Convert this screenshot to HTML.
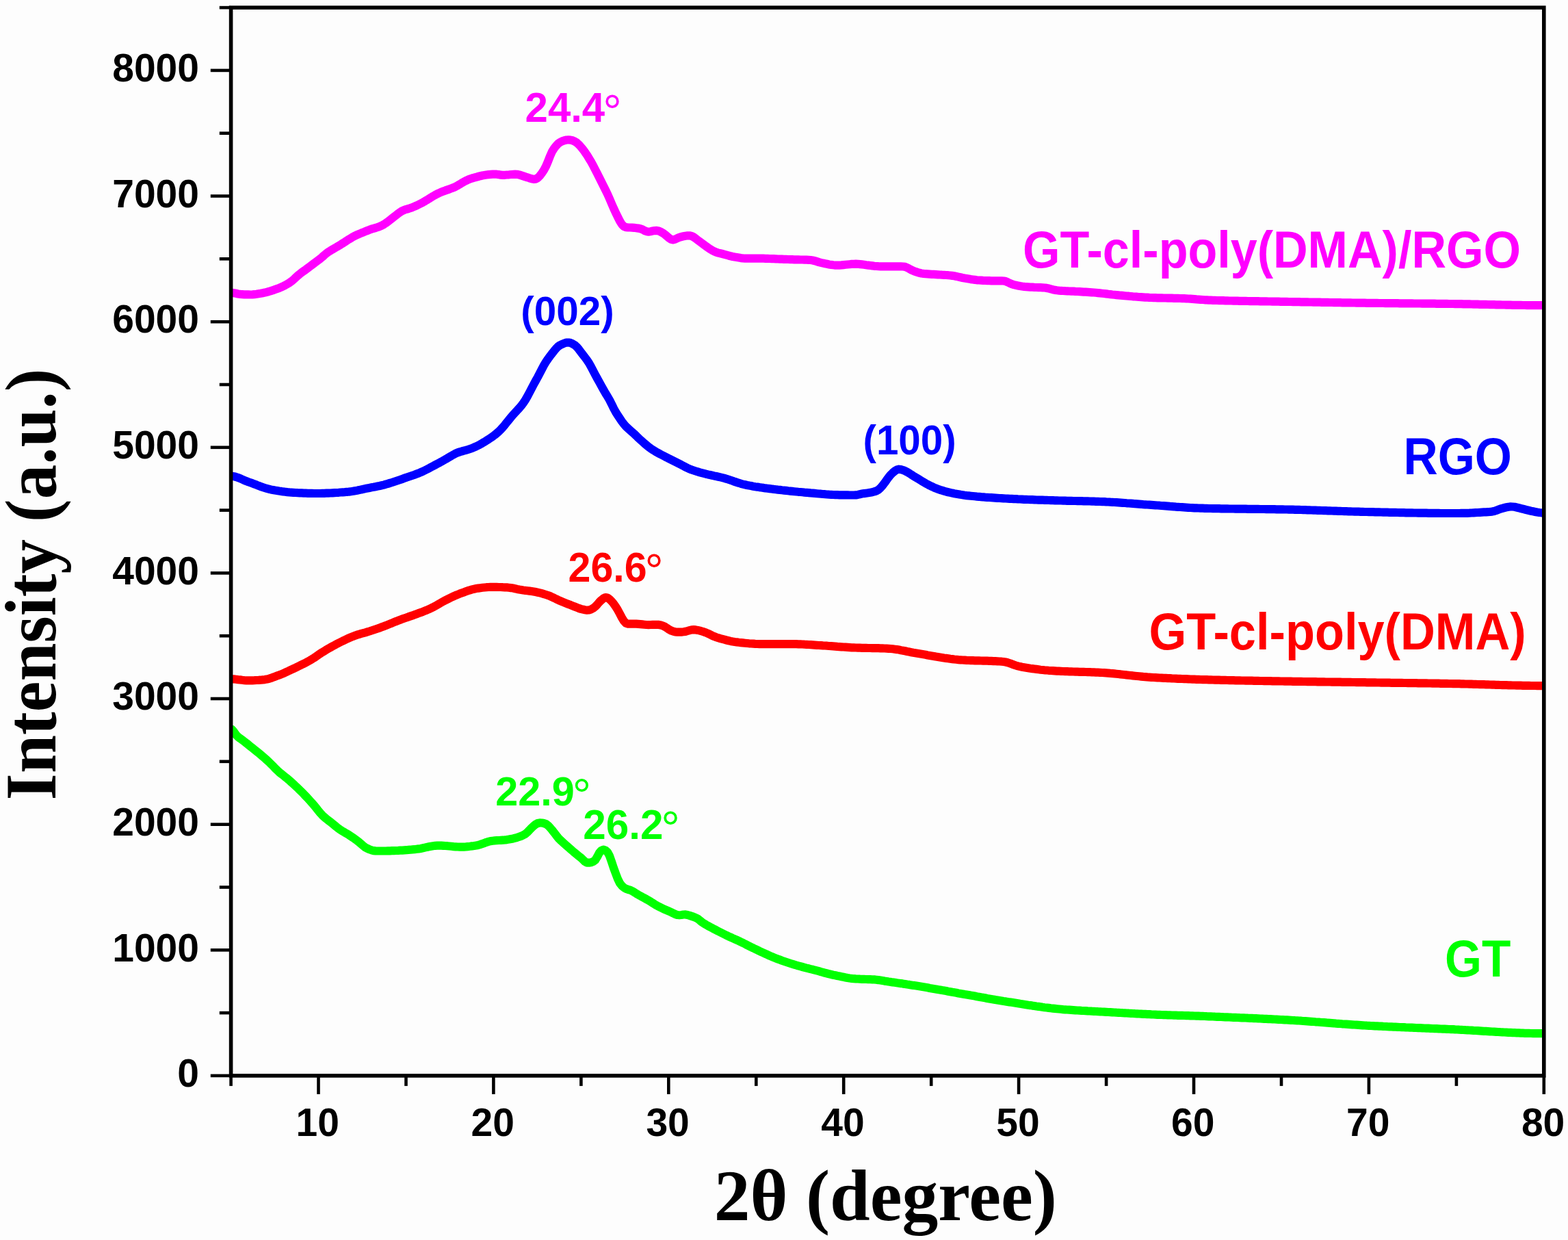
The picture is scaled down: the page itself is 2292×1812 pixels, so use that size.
<!DOCTYPE html>
<html><head><meta charset="utf-8"><title>XRD</title>
<style>html,body{margin:0;padding:0;background:#fdfdfd;overflow:hidden;width:2292px;height:1812px;} svg{display:block;}</style>
</head><body>
<svg width="2292" height="1812" viewBox="0 0 2292 1812">
<rect x="0" y="0" width="2292" height="1812" fill="#fdfdfd"/>
<defs><clipPath id="pc"><rect x="337.6" y="0" width="1919.2" height="1812"/></clipPath></defs>
<g fill="none" stroke-linejoin="round" stroke-linecap="butt" stroke-width="12.2" clip-path="url(#pc)">
<path stroke="#ff00ff" d="M330.0,427.8 L333.0,427.8 L336.0,427.8 L339.0,427.9 L342.0,428.2 L345.0,428.8 L348.0,429.5 L351.0,429.9 L354.0,430.1 L357.0,430.3 L360.0,430.4 L363.0,430.4 L366.0,430.5 L369.0,430.4 L372.0,430.2 L375.0,429.8 L378.0,429.3 L381.0,428.8 L384.0,428.2 L387.0,427.6 L390.0,426.8 L393.0,426.0 L396.0,425.1 L399.0,424.2 L402.0,423.1 L405.0,422.0 L408.0,420.9 L411.0,419.6 L414.0,418.2 L417.0,416.7 L420.0,415.0 L423.0,413.2 L426.0,411.1 L429.0,408.6 L432.0,405.8 L435.0,403.0 L438.0,400.5 L441.0,398.2 L444.0,396.0 L447.0,393.9 L450.0,391.6 L453.0,389.4 L456.0,387.1 L459.0,384.8 L462.0,382.6 L465.0,380.4 L468.0,378.1 L471.0,375.6 L474.0,372.9 L477.0,370.4 L480.0,368.2 L483.0,366.3 L486.0,364.5 L489.0,362.7 L492.0,361.0 L495.0,359.2 L498.0,357.4 L501.0,355.5 L504.0,353.6 L507.0,351.6 L510.0,349.7 L513.0,347.9 L516.0,346.1 L519.0,344.5 L522.0,343.1 L525.0,341.8 L528.0,340.6 L531.0,339.5 L534.0,338.2 L537.0,337.0 L540.0,335.8 L543.0,334.7 L546.0,333.8 L549.0,333.0 L552.0,332.0 L555.0,330.9 L558.0,329.6 L561.0,328.0 L564.0,326.0 L567.0,323.8 L570.0,321.5 L573.0,319.2 L576.0,316.8 L579.0,314.5 L582.0,312.1 L585.0,309.9 L588.0,308.1 L591.0,306.8 L594.0,305.8 L597.0,305.0 L600.0,304.0 L603.0,302.9 L606.0,301.7 L609.0,300.4 L612.0,298.9 L615.0,297.4 L618.0,295.8 L621.0,294.1 L624.0,292.3 L627.0,290.4 L630.0,288.6 L633.0,286.7 L636.0,285.0 L639.0,283.4 L642.0,282.0 L645.0,280.7 L648.0,279.5 L651.0,278.4 L654.0,277.4 L657.0,276.4 L660.0,275.2 L663.0,274.1 L666.0,272.7 L669.0,271.1 L672.0,269.3 L675.0,267.4 L678.0,265.7 L681.0,264.1 L684.0,262.7 L687.0,261.5 L690.0,260.5 L693.0,259.7 L696.0,258.8 L699.0,258.0 L702.0,257.2 L705.0,256.5 L708.0,256.0 L711.0,255.5 L714.0,255.1 L717.0,254.9 L720.0,254.7 L723.0,254.6 L726.0,254.7 L729.0,255.1 L732.0,255.7 L735.0,255.9 L738.0,255.8 L741.0,255.5 L744.0,255.3 L747.0,255.0 L750.0,254.8 L753.0,254.7 L756.0,254.8 L759.0,255.4 L762.0,256.4 L765.0,257.4 L768.0,258.4 L771.0,259.3 L774.0,260.3 L777.0,261.2 L780.0,261.8 L783.0,261.6 L786.0,260.0 L789.0,257.0 L792.0,253.1 L795.0,248.6 L798.0,243.0 L801.0,236.0 L804.0,228.2 L807.0,221.6 L810.0,216.8 L813.0,212.9 L816.0,209.8 L819.0,207.7 L822.0,206.3 L825.0,205.2 L828.0,204.5 L831.0,204.3 L834.0,204.6 L837.0,205.3 L840.0,206.6 L843.0,208.5 L846.0,211.2 L849.0,214.5 L852.0,218.2 L855.0,222.2 L858.0,226.6 L861.0,231.4 L864.0,236.4 L867.0,241.9 L870.0,247.7 L873.0,253.6 L876.0,259.6 L879.0,265.6 L882.0,271.5 L885.0,277.5 L888.0,283.6 L891.0,290.4 L894.0,297.5 L897.0,304.4 L900.0,310.8 L903.0,317.0 L906.0,323.0 L909.0,327.9 L912.0,330.9 L915.0,332.2 L918.0,332.4 L921.0,332.5 L924.0,332.6 L927.0,332.8 L930.0,333.2 L933.0,333.6 L936.0,334.2 L939.0,335.3 L942.0,337.0 L945.0,338.2 L948.0,338.6 L951.0,338.2 L954.0,337.6 L957.0,337.1 L960.0,336.9 L963.0,337.5 L966.0,338.9 L969.0,340.6 L972.0,342.7 L975.0,345.2 L978.0,347.9 L981.0,349.8 L984.0,350.4 L987.0,349.6 L990.0,348.1 L993.0,346.8 L996.0,346.0 L999.0,345.3 L1002.0,344.7 L1005.0,344.3 L1008.0,344.3 L1011.0,344.9 L1014.0,346.5 L1017.0,348.7 L1020.0,351.0 L1023.0,353.2 L1026.0,355.4 L1029.0,357.7 L1032.0,359.9 L1035.0,361.9 L1038.0,364.0 L1041.0,365.8 L1044.0,367.4 L1047.0,368.7 L1050.0,369.6 L1053.0,370.3 L1056.0,371.0 L1059.0,371.8 L1062.0,372.6 L1065.0,373.5 L1068.0,374.3 L1071.0,375.0 L1074.0,375.6 L1077.0,376.1 L1080.0,376.6 L1083.0,377.1 L1086.0,377.4 L1089.0,377.6 L1092.0,377.7 L1095.0,377.7 L1098.0,377.7 L1101.0,377.7 L1104.0,377.7 L1107.0,377.7 L1110.0,377.7 L1113.0,377.7 L1116.0,377.7 L1119.0,377.8 L1122.0,377.9 L1125.0,378.0 L1128.0,378.1 L1131.0,378.2 L1134.0,378.3 L1137.0,378.5 L1140.0,378.6 L1143.0,378.7 L1146.0,378.8 L1149.0,378.9 L1152.0,379.0 L1155.0,379.1 L1158.0,379.2 L1161.0,379.3 L1164.0,379.4 L1167.0,379.4 L1170.0,379.5 L1173.0,379.5 L1176.0,379.6 L1179.0,379.7 L1182.0,379.8 L1185.0,380.0 L1188.0,380.5 L1191.0,381.2 L1194.0,382.1 L1197.0,383.1 L1200.0,383.9 L1203.0,384.6 L1206.0,385.2 L1209.0,385.8 L1212.0,386.4 L1215.0,386.9 L1218.0,387.3 L1221.0,387.6 L1224.0,387.7 L1227.0,387.6 L1230.0,387.4 L1233.0,387.1 L1236.0,386.8 L1239.0,386.5 L1242.0,386.2 L1245.0,385.9 L1248.0,385.8 L1251.0,385.7 L1254.0,385.8 L1257.0,386.1 L1260.0,386.4 L1263.0,386.7 L1266.0,387.2 L1269.0,387.6 L1272.0,388.0 L1275.0,388.4 L1278.0,388.8 L1281.0,389.0 L1284.0,389.2 L1287.0,389.3 L1290.0,389.3 L1293.0,389.4 L1296.0,389.4 L1299.0,389.4 L1302.0,389.4 L1305.0,389.4 L1308.0,389.4 L1311.0,389.4 L1314.0,389.4 L1317.0,389.4 L1320.0,389.5 L1323.0,389.9 L1326.0,391.1 L1329.0,392.7 L1332.0,394.4 L1335.0,395.8 L1338.0,396.9 L1341.0,397.9 L1344.0,398.8 L1347.0,399.5 L1350.0,399.9 L1353.0,400.2 L1356.0,400.4 L1359.0,400.6 L1362.0,400.8 L1365.0,400.9 L1368.0,401.1 L1371.0,401.3 L1374.0,401.5 L1377.0,401.7 L1380.0,401.8 L1383.0,402.0 L1386.0,402.2 L1389.0,402.5 L1392.0,402.9 L1395.0,403.3 L1398.0,403.9 L1401.0,404.6 L1404.0,405.3 L1407.0,406.0 L1410.0,406.6 L1413.0,407.1 L1416.0,407.6 L1419.0,408.1 L1422.0,408.5 L1425.0,408.9 L1428.0,409.3 L1431.0,409.5 L1434.0,409.7 L1437.0,409.9 L1440.0,410.0 L1443.0,410.1 L1446.0,410.2 L1449.0,410.3 L1452.0,410.3 L1455.0,410.3 L1458.0,410.3 L1461.0,410.3 L1464.0,410.3 L1467.0,410.5 L1470.0,411.1 L1473.0,412.4 L1476.0,413.9 L1479.0,415.2 L1482.0,416.1 L1485.0,416.8 L1488.0,417.4 L1491.0,418.0 L1494.0,418.5 L1497.0,418.9 L1500.0,419.2 L1503.0,419.4 L1506.0,419.6 L1509.0,419.7 L1512.0,419.9 L1515.0,420.0 L1518.0,420.1 L1521.0,420.2 L1524.0,420.3 L1527.0,420.5 L1530.0,420.9 L1533.0,421.5 L1536.0,422.4 L1539.0,423.2 L1542.0,423.9 L1545.0,424.3 L1548.0,424.6 L1551.0,424.8 L1554.0,425.0 L1557.0,425.2 L1560.0,425.3 L1563.0,425.5 L1566.0,425.6 L1569.0,425.7 L1572.0,425.9 L1575.0,426.0 L1578.0,426.2 L1581.0,426.4 L1584.0,426.6 L1587.0,426.7 L1590.0,426.9 L1593.0,427.1 L1596.0,427.3 L1599.0,427.5 L1602.0,427.8 L1605.0,428.1 L1608.0,428.4 L1611.0,428.7 L1614.0,429.0 L1617.0,429.4 L1620.0,429.8 L1623.0,430.1 L1626.0,430.5 L1629.0,430.8 L1632.0,431.1 L1635.0,431.4 L1638.0,431.7 L1641.0,431.9 L1644.0,432.2 L1647.0,432.5 L1650.0,432.7 L1653.0,433.0 L1656.0,433.3 L1659.0,433.5 L1662.0,433.7 L1665.0,434.0 L1668.0,434.2 L1671.0,434.4 L1674.0,434.6 L1677.0,434.7 L1680.0,434.9 L1683.0,435.0 L1686.0,435.1 L1689.0,435.2 L1692.0,435.3 L1695.0,435.4 L1698.0,435.4 L1701.0,435.5 L1704.0,435.5 L1707.0,435.6 L1710.0,435.7 L1713.0,435.7 L1716.0,435.8 L1719.0,435.8 L1722.0,435.9 L1725.0,436.0 L1728.0,436.1 L1731.0,436.2 L1734.0,436.3 L1737.0,436.5 L1740.0,436.7 L1743.0,436.9 L1746.0,437.1 L1749.0,437.4 L1752.0,437.6 L1755.0,437.8 L1758.0,438.0 L1761.0,438.3 L1764.0,438.4 L1767.0,438.6 L1770.0,438.7 L1773.0,438.8 L1776.0,438.9 L1779.0,439.0 L1782.0,439.1 L1785.0,439.2 L1788.0,439.2 L1791.0,439.3 L1794.0,439.4 L1797.0,439.5 L1800.0,439.5 L1803.0,439.6 L1806.0,439.7 L1809.0,439.7 L1812.0,439.8 L1815.0,439.8 L1818.0,439.9 L1821.0,439.9 L1824.0,440.0 L1827.0,440.1 L1830.0,440.1 L1833.0,440.1 L1836.0,440.2 L1839.0,440.2 L1842.0,440.3 L1845.0,440.3 L1848.0,440.4 L1851.0,440.4 L1854.0,440.5 L1857.0,440.5 L1860.0,440.6 L1863.0,440.6 L1866.0,440.7 L1869.0,440.7 L1872.0,440.8 L1875.0,440.8 L1878.0,440.9 L1881.0,440.9 L1884.0,441.0 L1887.0,441.0 L1890.0,441.1 L1893.0,441.1 L1896.0,441.2 L1899.0,441.2 L1902.0,441.3 L1905.0,441.3 L1908.0,441.4 L1911.0,441.4 L1914.0,441.5 L1917.0,441.5 L1920.0,441.6 L1923.0,441.6 L1926.0,441.7 L1929.0,441.7 L1932.0,441.8 L1935.0,441.8 L1938.0,441.9 L1941.0,441.9 L1944.0,442.0 L1947.0,442.0 L1950.0,442.1 L1953.0,442.1 L1956.0,442.2 L1959.0,442.2 L1962.0,442.3 L1965.0,442.3 L1968.0,442.4 L1971.0,442.4 L1974.0,442.4 L1977.0,442.5 L1980.0,442.5 L1983.0,442.6 L1986.0,442.6 L1989.0,442.7 L1992.0,442.7 L1995.0,442.7 L1998.0,442.8 L2001.0,442.8 L2004.0,442.8 L2007.0,442.9 L2010.0,442.9 L2013.0,442.9 L2016.0,443.0 L2019.0,443.0 L2022.0,443.0 L2025.0,443.1 L2028.0,443.1 L2031.0,443.1 L2034.0,443.2 L2037.0,443.2 L2040.0,443.2 L2043.0,443.2 L2046.0,443.3 L2049.0,443.3 L2052.0,443.3 L2055.0,443.3 L2058.0,443.4 L2061.0,443.4 L2064.0,443.4 L2067.0,443.5 L2070.0,443.5 L2073.0,443.5 L2076.0,443.5 L2079.0,443.6 L2082.0,443.6 L2085.0,443.6 L2088.0,443.6 L2091.0,443.7 L2094.0,443.7 L2097.0,443.7 L2100.0,443.8 L2103.0,443.8 L2106.0,443.8 L2109.0,443.9 L2112.0,443.9 L2115.0,443.9 L2118.0,444.0 L2121.0,444.0 L2124.0,444.0 L2127.0,444.1 L2130.0,444.1 L2133.0,444.2 L2136.0,444.2 L2139.0,444.3 L2142.0,444.3 L2145.0,444.4 L2148.0,444.4 L2151.0,444.5 L2154.0,444.6 L2157.0,444.6 L2160.0,444.7 L2163.0,444.8 L2166.0,444.8 L2169.0,444.9 L2172.0,444.9 L2175.0,445.0 L2178.0,445.1 L2181.0,445.1 L2184.0,445.2 L2187.0,445.3 L2190.0,445.3 L2193.0,445.4 L2196.0,445.5 L2199.0,445.5 L2202.0,445.6 L2205.0,445.6 L2208.0,445.7 L2211.0,445.8 L2214.0,445.8 L2217.0,445.9 L2220.0,445.9 L2223.0,445.9 L2226.0,446.0 L2229.0,446.0 L2232.0,446.1 L2235.0,446.1 L2238.0,446.1 L2241.0,446.1 L2244.0,446.2 L2247.0,446.2 L2250.0,446.2 L2253.0,446.2 L2256.0,446.2 L2259.0,446.2 L2262.0,446.2 L2264.0,446.2"/>
<path stroke="#0000ff" d="M330.0,695.5 L333.0,695.5 L336.0,695.5 L339.0,695.7 L342.0,696.2 L345.0,697.0 L348.0,698.0 L351.0,699.2 L354.0,700.5 L357.0,701.8 L360.0,703.1 L363.0,704.2 L366.0,705.2 L369.0,706.3 L372.0,707.5 L375.0,708.6 L378.0,709.8 L381.0,710.9 L384.0,712.0 L387.0,713.0 L390.0,713.9 L393.0,714.7 L396.0,715.4 L399.0,715.9 L402.0,716.5 L405.0,717.0 L408.0,717.5 L411.0,717.9 L414.0,718.4 L417.0,718.7 L420.0,719.1 L423.0,719.4 L426.0,719.6 L429.0,719.8 L432.0,720.0 L435.0,720.2 L438.0,720.3 L441.0,720.4 L444.0,720.6 L447.0,720.7 L450.0,720.8 L453.0,720.9 L456.0,720.9 L459.0,721.0 L462.0,721.0 L465.0,721.0 L468.0,721.0 L471.0,720.9 L474.0,720.8 L477.0,720.7 L480.0,720.6 L483.0,720.5 L486.0,720.3 L489.0,720.1 L492.0,720.0 L495.0,719.8 L498.0,719.5 L501.0,719.3 L504.0,719.1 L507.0,718.8 L510.0,718.6 L513.0,718.2 L516.0,717.8 L519.0,717.2 L522.0,716.7 L525.0,716.1 L528.0,715.4 L531.0,714.8 L534.0,714.1 L537.0,713.5 L540.0,712.9 L543.0,712.3 L546.0,711.8 L549.0,711.2 L552.0,710.6 L555.0,710.0 L558.0,709.3 L561.0,708.6 L564.0,707.7 L567.0,706.9 L570.0,705.9 L573.0,705.0 L576.0,704.0 L579.0,703.0 L582.0,702.0 L585.0,701.0 L588.0,699.9 L591.0,698.8 L594.0,697.7 L597.0,696.7 L600.0,695.7 L603.0,694.7 L606.0,693.7 L609.0,692.6 L612.0,691.5 L615.0,690.2 L618.0,688.9 L621.0,687.4 L624.0,685.9 L627.0,684.3 L630.0,682.7 L633.0,681.1 L636.0,679.5 L639.0,677.9 L642.0,676.3 L645.0,674.7 L648.0,673.0 L651.0,671.3 L654.0,669.6 L657.0,667.8 L660.0,666.0 L663.0,664.3 L666.0,662.7 L669.0,661.4 L672.0,660.4 L675.0,659.5 L678.0,658.7 L681.0,657.9 L684.0,657.0 L687.0,656.0 L690.0,655.0 L693.0,653.7 L696.0,652.4 L699.0,650.9 L702.0,649.3 L705.0,647.6 L708.0,645.8 L711.0,643.9 L714.0,642.0 L717.0,640.0 L720.0,637.9 L723.0,635.7 L726.0,633.2 L729.0,630.6 L732.0,627.7 L735.0,624.4 L738.0,620.8 L741.0,617.0 L744.0,613.3 L747.0,609.7 L750.0,606.1 L753.0,602.9 L756.0,599.7 L759.0,596.4 L762.0,592.8 L765.0,588.8 L768.0,584.3 L771.0,579.2 L774.0,573.5 L777.0,567.7 L780.0,562.0 L783.0,556.5 L786.0,551.1 L789.0,545.4 L792.0,539.6 L795.0,533.9 L798.0,528.9 L801.0,524.5 L804.0,520.4 L807.0,516.5 L810.0,512.7 L813.0,509.1 L816.0,506.2 L819.0,504.2 L822.0,502.8 L825.0,501.5 L828.0,500.6 L831.0,500.5 L834.0,501.1 L837.0,502.4 L840.0,504.2 L843.0,506.8 L846.0,510.3 L849.0,514.3 L852.0,518.2 L855.0,522.1 L858.0,526.1 L861.0,530.6 L864.0,536.0 L867.0,541.8 L870.0,547.5 L873.0,553.0 L876.0,558.4 L879.0,563.9 L882.0,569.3 L885.0,574.5 L888.0,579.4 L891.0,584.5 L894.0,590.4 L897.0,596.7 L900.0,602.2 L903.0,606.8 L906.0,611.4 L909.0,615.9 L912.0,619.8 L915.0,623.2 L918.0,626.0 L921.0,628.7 L924.0,631.3 L927.0,634.0 L930.0,636.9 L933.0,639.8 L936.0,642.6 L939.0,645.3 L942.0,648.0 L945.0,650.5 L948.0,652.9 L951.0,655.2 L954.0,657.3 L957.0,659.1 L960.0,660.9 L963.0,662.5 L966.0,664.1 L969.0,665.6 L972.0,667.2 L975.0,668.7 L978.0,670.3 L981.0,671.8 L984.0,673.3 L987.0,674.8 L990.0,676.3 L993.0,677.8 L996.0,679.3 L999.0,680.9 L1002.0,682.5 L1005.0,684.0 L1008.0,685.3 L1011.0,686.5 L1014.0,687.5 L1017.0,688.5 L1020.0,689.4 L1023.0,690.3 L1026.0,691.1 L1029.0,691.9 L1032.0,692.7 L1035.0,693.4 L1038.0,694.0 L1041.0,694.7 L1044.0,695.4 L1047.0,696.0 L1050.0,696.7 L1053.0,697.4 L1056.0,698.1 L1059.0,698.9 L1062.0,699.8 L1065.0,700.8 L1068.0,701.8 L1071.0,702.8 L1074.0,703.9 L1077.0,704.9 L1080.0,705.8 L1083.0,706.8 L1086.0,707.6 L1089.0,708.3 L1092.0,709.0 L1095.0,709.6 L1098.0,710.1 L1101.0,710.7 L1104.0,711.2 L1107.0,711.6 L1110.0,712.1 L1113.0,712.5 L1116.0,712.9 L1119.0,713.4 L1122.0,713.7 L1125.0,714.1 L1128.0,714.5 L1131.0,714.9 L1134.0,715.2 L1137.0,715.6 L1140.0,715.9 L1143.0,716.3 L1146.0,716.6 L1149.0,716.9 L1152.0,717.3 L1155.0,717.6 L1158.0,717.9 L1161.0,718.2 L1164.0,718.5 L1167.0,718.8 L1170.0,719.0 L1173.0,719.3 L1176.0,719.6 L1179.0,719.8 L1182.0,720.1 L1185.0,720.4 L1188.0,720.6 L1191.0,720.9 L1194.0,721.2 L1197.0,721.5 L1200.0,721.7 L1203.0,722.0 L1206.0,722.2 L1209.0,722.5 L1212.0,722.7 L1215.0,722.8 L1218.0,723.0 L1221.0,723.1 L1224.0,723.2 L1227.0,723.3 L1230.0,723.3 L1233.0,723.4 L1236.0,723.4 L1239.0,723.4 L1242.0,723.5 L1245.0,723.5 L1248.0,723.5 L1251.0,723.4 L1254.0,722.9 L1257.0,722.2 L1260.0,721.6 L1263.0,721.1 L1266.0,720.7 L1269.0,720.3 L1272.0,719.8 L1275.0,719.2 L1278.0,718.4 L1281.0,717.4 L1284.0,715.7 L1287.0,713.0 L1290.0,709.7 L1293.0,705.7 L1296.0,701.4 L1299.0,697.4 L1302.0,693.7 L1305.0,690.7 L1308.0,688.2 L1311.0,686.4 L1314.0,685.7 L1317.0,686.1 L1320.0,687.0 L1323.0,688.2 L1326.0,689.7 L1329.0,691.5 L1332.0,693.5 L1335.0,695.4 L1338.0,697.2 L1341.0,699.0 L1344.0,700.8 L1347.0,702.7 L1350.0,704.5 L1353.0,706.3 L1356.0,707.9 L1359.0,709.5 L1362.0,710.9 L1365.0,712.3 L1368.0,713.6 L1371.0,714.7 L1374.0,715.8 L1377.0,716.7 L1380.0,717.6 L1383.0,718.5 L1386.0,719.2 L1389.0,719.9 L1392.0,720.6 L1395.0,721.2 L1398.0,721.7 L1401.0,722.2 L1404.0,722.8 L1407.0,723.2 L1410.0,723.7 L1413.0,724.1 L1416.0,724.4 L1419.0,724.7 L1422.0,725.0 L1425.0,725.3 L1428.0,725.6 L1431.0,725.8 L1434.0,726.1 L1437.0,726.3 L1440.0,726.6 L1443.0,726.8 L1446.0,727.0 L1449.0,727.2 L1452.0,727.4 L1455.0,727.6 L1458.0,727.8 L1461.0,728.0 L1464.0,728.1 L1467.0,728.3 L1470.0,728.5 L1473.0,728.6 L1476.0,728.8 L1479.0,728.9 L1482.0,729.1 L1485.0,729.2 L1488.0,729.4 L1491.0,729.5 L1494.0,729.6 L1497.0,729.8 L1500.0,729.9 L1503.0,730.0 L1506.0,730.1 L1509.0,730.2 L1512.0,730.3 L1515.0,730.5 L1518.0,730.6 L1521.0,730.7 L1524.0,730.7 L1527.0,730.8 L1530.0,730.9 L1533.0,731.0 L1536.0,731.1 L1539.0,731.2 L1542.0,731.3 L1545.0,731.4 L1548.0,731.5 L1551.0,731.5 L1554.0,731.6 L1557.0,731.7 L1560.0,731.8 L1563.0,731.8 L1566.0,731.9 L1569.0,732.0 L1572.0,732.0 L1575.0,732.1 L1578.0,732.2 L1581.0,732.2 L1584.0,732.3 L1587.0,732.4 L1590.0,732.4 L1593.0,732.5 L1596.0,732.6 L1599.0,732.7 L1602.0,732.8 L1605.0,732.9 L1608.0,733.0 L1611.0,733.1 L1614.0,733.2 L1617.0,733.4 L1620.0,733.5 L1623.0,733.7 L1626.0,733.8 L1629.0,734.0 L1632.0,734.2 L1635.0,734.4 L1638.0,734.6 L1641.0,734.8 L1644.0,735.0 L1647.0,735.3 L1650.0,735.5 L1653.0,735.7 L1656.0,735.9 L1659.0,736.2 L1662.0,736.4 L1665.0,736.6 L1668.0,736.8 L1671.0,737.1 L1674.0,737.3 L1677.0,737.5 L1680.0,737.7 L1683.0,737.9 L1686.0,738.1 L1689.0,738.3 L1692.0,738.5 L1695.0,738.7 L1698.0,739.0 L1701.0,739.2 L1704.0,739.4 L1707.0,739.6 L1710.0,739.9 L1713.0,740.1 L1716.0,740.3 L1719.0,740.6 L1722.0,740.8 L1725.0,741.0 L1728.0,741.2 L1731.0,741.4 L1734.0,741.6 L1737.0,741.8 L1740.0,742.0 L1743.0,742.1 L1746.0,742.3 L1749.0,742.4 L1752.0,742.5 L1755.0,742.7 L1758.0,742.7 L1761.0,742.8 L1764.0,742.9 L1767.0,743.0 L1770.0,743.0 L1773.0,743.1 L1776.0,743.1 L1779.0,743.2 L1782.0,743.2 L1785.0,743.3 L1788.0,743.3 L1791.0,743.4 L1794.0,743.4 L1797.0,743.5 L1800.0,743.5 L1803.0,743.5 L1806.0,743.6 L1809.0,743.6 L1812.0,743.6 L1815.0,743.7 L1818.0,743.7 L1821.0,743.7 L1824.0,743.8 L1827.0,743.8 L1830.0,743.8 L1833.0,743.9 L1836.0,743.9 L1839.0,743.9 L1842.0,744.0 L1845.0,744.0 L1848.0,744.0 L1851.0,744.1 L1854.0,744.1 L1857.0,744.1 L1860.0,744.2 L1863.0,744.2 L1866.0,744.3 L1869.0,744.3 L1872.0,744.4 L1875.0,744.4 L1878.0,744.5 L1881.0,744.5 L1884.0,744.6 L1887.0,744.6 L1890.0,744.7 L1893.0,744.8 L1896.0,744.9 L1899.0,744.9 L1902.0,745.0 L1905.0,745.1 L1908.0,745.2 L1911.0,745.3 L1914.0,745.4 L1917.0,745.5 L1920.0,745.6 L1923.0,745.7 L1926.0,745.8 L1929.0,745.9 L1932.0,746.0 L1935.0,746.1 L1938.0,746.2 L1941.0,746.3 L1944.0,746.4 L1947.0,746.5 L1950.0,746.6 L1953.0,746.7 L1956.0,746.8 L1959.0,746.9 L1962.0,747.0 L1965.0,747.1 L1968.0,747.2 L1971.0,747.3 L1974.0,747.4 L1977.0,747.5 L1980.0,747.6 L1983.0,747.7 L1986.0,747.7 L1989.0,747.8 L1992.0,747.9 L1995.0,748.0 L1998.0,748.0 L2001.0,748.1 L2004.0,748.2 L2007.0,748.2 L2010.0,748.3 L2013.0,748.4 L2016.0,748.4 L2019.0,748.5 L2022.0,748.6 L2025.0,748.6 L2028.0,748.7 L2031.0,748.8 L2034.0,748.8 L2037.0,748.9 L2040.0,748.9 L2043.0,749.0 L2046.0,749.1 L2049.0,749.1 L2052.0,749.2 L2055.0,749.3 L2058.0,749.3 L2061.0,749.4 L2064.0,749.4 L2067.0,749.5 L2070.0,749.5 L2073.0,749.6 L2076.0,749.6 L2079.0,749.7 L2082.0,749.7 L2085.0,749.7 L2088.0,749.8 L2091.0,749.8 L2094.0,749.9 L2097.0,749.9 L2100.0,749.9 L2103.0,749.9 L2106.0,750.0 L2109.0,750.0 L2112.0,750.0 L2115.0,750.0 L2118.0,750.0 L2121.0,750.0 L2124.0,750.0 L2127.0,750.0 L2130.0,750.0 L2133.0,750.0 L2136.0,749.9 L2139.0,749.9 L2142.0,749.9 L2145.0,749.8 L2148.0,749.7 L2151.0,749.5 L2154.0,749.3 L2157.0,749.1 L2160.0,749.0 L2163.0,748.8 L2166.0,748.6 L2169.0,748.4 L2172.0,748.3 L2175.0,748.1 L2178.0,747.9 L2181.0,747.6 L2184.0,747.0 L2187.0,746.0 L2190.0,744.8 L2193.0,743.7 L2196.0,742.8 L2199.0,742.0 L2202.0,741.3 L2205.0,740.7 L2208.0,740.4 L2211.0,740.5 L2214.0,740.8 L2217.0,741.5 L2220.0,742.2 L2223.0,743.0 L2226.0,743.7 L2229.0,744.5 L2232.0,745.3 L2235.0,746.0 L2238.0,746.7 L2241.0,747.3 L2244.0,747.9 L2247.0,748.5 L2250.0,749.0 L2253.0,749.3 L2256.0,749.5 L2259.0,749.5 L2262.0,749.5 L2264.0,749.5"/>
<path stroke="#ff0000" d="M330.0,992.2 L333.0,992.2 L336.0,992.2 L339.0,992.3 L342.0,992.4 L345.0,992.7 L348.0,993.1 L351.0,993.4 L354.0,993.8 L357.0,994.1 L360.0,994.3 L363.0,994.4 L366.0,994.4 L369.0,994.3 L372.0,994.2 L375.0,994.0 L378.0,993.9 L381.0,993.7 L384.0,993.4 L387.0,993.1 L390.0,992.6 L393.0,991.8 L396.0,990.9 L399.0,989.8 L402.0,988.7 L405.0,987.6 L408.0,986.5 L411.0,985.3 L414.0,984.1 L417.0,982.7 L420.0,981.4 L423.0,979.9 L426.0,978.5 L429.0,977.1 L432.0,975.7 L435.0,974.2 L438.0,972.8 L441.0,971.3 L444.0,969.9 L447.0,968.3 L450.0,966.7 L453.0,965.0 L456.0,963.2 L459.0,961.3 L462.0,959.3 L465.0,957.2 L468.0,955.2 L471.0,953.2 L474.0,951.4 L477.0,949.6 L480.0,947.8 L483.0,946.1 L486.0,944.4 L489.0,942.8 L492.0,941.2 L495.0,939.6 L498.0,938.1 L501.0,936.6 L504.0,935.2 L507.0,933.8 L510.0,932.4 L513.0,931.1 L516.0,929.9 L519.0,928.8 L522.0,927.7 L525.0,926.8 L528.0,925.9 L531.0,925.1 L534.0,924.3 L537.0,923.4 L540.0,922.5 L543.0,921.5 L546.0,920.5 L549.0,919.5 L552.0,918.5 L555.0,917.4 L558.0,916.3 L561.0,915.2 L564.0,914.1 L567.0,912.9 L570.0,911.7 L573.0,910.5 L576.0,909.2 L579.0,908.0 L582.0,906.8 L585.0,905.7 L588.0,904.6 L591.0,903.5 L594.0,902.5 L597.0,901.4 L600.0,900.4 L603.0,899.4 L606.0,898.3 L609.0,897.2 L612.0,896.1 L615.0,895.0 L618.0,893.9 L621.0,892.7 L624.0,891.5 L627.0,890.2 L630.0,888.8 L633.0,887.3 L636.0,885.7 L639.0,884.0 L642.0,882.2 L645.0,880.5 L648.0,878.8 L651.0,877.2 L654.0,875.7 L657.0,874.2 L660.0,872.8 L663.0,871.4 L666.0,870.0 L669.0,868.8 L672.0,867.6 L675.0,866.5 L678.0,865.4 L681.0,864.3 L684.0,863.2 L687.0,862.3 L690.0,861.4 L693.0,860.7 L696.0,860.1 L699.0,859.6 L702.0,859.2 L705.0,858.8 L708.0,858.5 L711.0,858.2 L714.0,858.0 L717.0,857.8 L720.0,857.8 L723.0,857.8 L726.0,857.9 L729.0,858.0 L732.0,858.0 L735.0,858.2 L738.0,858.3 L741.0,858.4 L744.0,858.7 L747.0,859.1 L750.0,859.6 L753.0,860.2 L756.0,860.9 L759.0,861.5 L762.0,862.0 L765.0,862.5 L768.0,862.9 L771.0,863.2 L774.0,863.6 L777.0,864.0 L780.0,864.5 L783.0,865.1 L786.0,865.7 L789.0,866.4 L792.0,867.2 L795.0,868.1 L798.0,869.0 L801.0,870.0 L804.0,871.1 L807.0,872.5 L810.0,873.9 L813.0,875.4 L816.0,876.8 L819.0,878.1 L822.0,879.4 L825.0,880.6 L828.0,881.8 L831.0,883.0 L834.0,884.1 L837.0,885.3 L840.0,886.5 L843.0,887.7 L846.0,888.9 L849.0,889.9 L852.0,890.6 L855.0,891.2 L858.0,891.6 L861.0,891.5 L864.0,890.5 L867.0,888.8 L870.0,886.5 L873.0,883.4 L876.0,879.9 L879.0,876.9 L882.0,874.5 L885.0,873.0 L888.0,873.5 L891.0,875.7 L894.0,878.6 L897.0,882.2 L900.0,886.5 L903.0,891.3 L906.0,896.8 L909.0,902.6 L912.0,907.6 L915.0,910.7 L918.0,911.6 L921.0,911.7 L924.0,911.7 L927.0,911.7 L930.0,911.7 L933.0,911.9 L936.0,912.1 L939.0,912.4 L942.0,912.7 L945.0,913.0 L948.0,913.1 L951.0,913.0 L954.0,912.9 L957.0,912.8 L960.0,912.8 L963.0,912.9 L966.0,913.5 L969.0,914.5 L972.0,915.9 L975.0,917.8 L978.0,919.9 L981.0,921.5 L984.0,922.6 L987.0,923.4 L990.0,923.7 L993.0,923.7 L996.0,923.6 L999.0,923.3 L1002.0,922.9 L1005.0,922.0 L1008.0,921.1 L1011.0,920.3 L1014.0,920.1 L1017.0,920.4 L1020.0,920.9 L1023.0,921.6 L1026.0,922.5 L1029.0,923.4 L1032.0,924.5 L1035.0,925.8 L1038.0,927.3 L1041.0,928.8 L1044.0,930.1 L1047.0,931.2 L1050.0,932.2 L1053.0,933.1 L1056.0,933.9 L1059.0,934.7 L1062.0,935.5 L1065.0,936.2 L1068.0,936.9 L1071.0,937.5 L1074.0,938.0 L1077.0,938.4 L1080.0,938.8 L1083.0,939.1 L1086.0,939.4 L1089.0,939.7 L1092.0,940.0 L1095.0,940.3 L1098.0,940.5 L1101.0,940.7 L1104.0,940.9 L1107.0,941.0 L1110.0,941.1 L1113.0,941.1 L1116.0,941.1 L1119.0,941.1 L1122.0,941.1 L1125.0,941.1 L1128.0,941.1 L1131.0,941.1 L1134.0,941.1 L1137.0,941.1 L1140.0,941.1 L1143.0,941.1 L1146.0,941.1 L1149.0,941.1 L1152.0,941.1 L1155.0,941.1 L1158.0,941.1 L1161.0,941.1 L1164.0,941.2 L1167.0,941.3 L1170.0,941.4 L1173.0,941.5 L1176.0,941.7 L1179.0,941.8 L1182.0,942.0 L1185.0,942.2 L1188.0,942.4 L1191.0,942.6 L1194.0,942.8 L1197.0,943.0 L1200.0,943.2 L1203.0,943.4 L1206.0,943.5 L1209.0,943.7 L1212.0,944.0 L1215.0,944.2 L1218.0,944.4 L1221.0,944.6 L1224.0,944.9 L1227.0,945.1 L1230.0,945.3 L1233.0,945.5 L1236.0,945.7 L1239.0,945.9 L1242.0,946.1 L1245.0,946.3 L1248.0,946.4 L1251.0,946.5 L1254.0,946.6 L1257.0,946.7 L1260.0,946.8 L1263.0,946.9 L1266.0,946.9 L1269.0,947.0 L1272.0,947.0 L1275.0,947.1 L1278.0,947.1 L1281.0,947.2 L1284.0,947.2 L1287.0,947.3 L1290.0,947.4 L1293.0,947.5 L1296.0,947.6 L1299.0,947.8 L1302.0,948.0 L1305.0,948.3 L1308.0,948.7 L1311.0,949.1 L1314.0,949.6 L1317.0,950.2 L1320.0,950.7 L1323.0,951.3 L1326.0,952.0 L1329.0,952.6 L1332.0,953.2 L1335.0,953.8 L1338.0,954.3 L1341.0,954.8 L1344.0,955.3 L1347.0,955.8 L1350.0,956.3 L1353.0,956.8 L1356.0,957.4 L1359.0,957.9 L1362.0,958.4 L1365.0,958.9 L1368.0,959.5 L1371.0,960.0 L1374.0,960.5 L1377.0,961.0 L1380.0,961.5 L1383.0,961.9 L1386.0,962.3 L1389.0,962.8 L1392.0,963.1 L1395.0,963.5 L1398.0,963.8 L1401.0,964.1 L1404.0,964.3 L1407.0,964.5 L1410.0,964.7 L1413.0,964.9 L1416.0,965.0 L1419.0,965.1 L1422.0,965.2 L1425.0,965.3 L1428.0,965.4 L1431.0,965.4 L1434.0,965.5 L1437.0,965.6 L1440.0,965.7 L1443.0,965.7 L1446.0,965.8 L1449.0,965.9 L1452.0,966.1 L1455.0,966.2 L1458.0,966.3 L1461.0,966.5 L1464.0,966.7 L1467.0,967.0 L1470.0,967.5 L1473.0,968.2 L1476.0,969.2 L1479.0,970.3 L1482.0,971.5 L1485.0,972.5 L1488.0,973.4 L1491.0,974.1 L1494.0,974.7 L1497.0,975.2 L1500.0,975.7 L1503.0,976.2 L1506.0,976.7 L1509.0,977.1 L1512.0,977.5 L1515.0,977.9 L1518.0,978.3 L1521.0,978.7 L1524.0,979.0 L1527.0,979.3 L1530.0,979.5 L1533.0,979.8 L1536.0,980.0 L1539.0,980.2 L1542.0,980.4 L1545.0,980.6 L1548.0,980.7 L1551.0,980.8 L1554.0,981.0 L1557.0,981.1 L1560.0,981.2 L1563.0,981.3 L1566.0,981.4 L1569.0,981.5 L1572.0,981.6 L1575.0,981.7 L1578.0,981.8 L1581.0,981.8 L1584.0,981.9 L1587.0,982.0 L1590.0,982.1 L1593.0,982.2 L1596.0,982.3 L1599.0,982.4 L1602.0,982.6 L1605.0,982.7 L1608.0,982.8 L1611.0,983.0 L1614.0,983.2 L1617.0,983.4 L1620.0,983.6 L1623.0,983.9 L1626.0,984.1 L1629.0,984.4 L1632.0,984.7 L1635.0,985.0 L1638.0,985.4 L1641.0,985.7 L1644.0,986.0 L1647.0,986.4 L1650.0,986.7 L1653.0,987.0 L1656.0,987.4 L1659.0,987.7 L1662.0,988.0 L1665.0,988.3 L1668.0,988.6 L1671.0,988.9 L1674.0,989.1 L1677.0,989.4 L1680.0,989.6 L1683.0,989.8 L1686.0,990.0 L1689.0,990.1 L1692.0,990.3 L1695.0,990.5 L1698.0,990.6 L1701.0,990.8 L1704.0,990.9 L1707.0,991.1 L1710.0,991.2 L1713.0,991.4 L1716.0,991.5 L1719.0,991.6 L1722.0,991.8 L1725.0,991.9 L1728.0,992.0 L1731.0,992.1 L1734.0,992.2 L1737.0,992.3 L1740.0,992.5 L1743.0,992.6 L1746.0,992.7 L1749.0,992.8 L1752.0,992.9 L1755.0,993.0 L1758.0,993.1 L1761.0,993.2 L1764.0,993.2 L1767.0,993.3 L1770.0,993.4 L1773.0,993.5 L1776.0,993.6 L1779.0,993.6 L1782.0,993.7 L1785.0,993.8 L1788.0,993.9 L1791.0,993.9 L1794.0,994.0 L1797.0,994.1 L1800.0,994.1 L1803.0,994.2 L1806.0,994.3 L1809.0,994.3 L1812.0,994.4 L1815.0,994.5 L1818.0,994.5 L1821.0,994.6 L1824.0,994.6 L1827.0,994.7 L1830.0,994.7 L1833.0,994.8 L1836.0,994.9 L1839.0,994.9 L1842.0,995.0 L1845.0,995.0 L1848.0,995.1 L1851.0,995.1 L1854.0,995.2 L1857.0,995.2 L1860.0,995.3 L1863.0,995.3 L1866.0,995.4 L1869.0,995.4 L1872.0,995.5 L1875.0,995.5 L1878.0,995.6 L1881.0,995.6 L1884.0,995.7 L1887.0,995.7 L1890.0,995.8 L1893.0,995.8 L1896.0,995.9 L1899.0,995.9 L1902.0,995.9 L1905.0,996.0 L1908.0,996.0 L1911.0,996.1 L1914.0,996.1 L1917.0,996.2 L1920.0,996.2 L1923.0,996.2 L1926.0,996.3 L1929.0,996.3 L1932.0,996.4 L1935.0,996.4 L1938.0,996.5 L1941.0,996.5 L1944.0,996.5 L1947.0,996.6 L1950.0,996.6 L1953.0,996.7 L1956.0,996.7 L1959.0,996.7 L1962.0,996.8 L1965.0,996.8 L1968.0,996.9 L1971.0,996.9 L1974.0,996.9 L1977.0,997.0 L1980.0,997.0 L1983.0,997.1 L1986.0,997.1 L1989.0,997.1 L1992.0,997.2 L1995.0,997.2 L1998.0,997.3 L2001.0,997.3 L2004.0,997.3 L2007.0,997.4 L2010.0,997.4 L2013.0,997.5 L2016.0,997.5 L2019.0,997.6 L2022.0,997.6 L2025.0,997.6 L2028.0,997.7 L2031.0,997.7 L2034.0,997.8 L2037.0,997.8 L2040.0,997.8 L2043.0,997.9 L2046.0,997.9 L2049.0,997.9 L2052.0,998.0 L2055.0,998.0 L2058.0,998.1 L2061.0,998.1 L2064.0,998.1 L2067.0,998.2 L2070.0,998.2 L2073.0,998.3 L2076.0,998.3 L2079.0,998.3 L2082.0,998.4 L2085.0,998.4 L2088.0,998.5 L2091.0,998.5 L2094.0,998.6 L2097.0,998.6 L2100.0,998.7 L2103.0,998.7 L2106.0,998.8 L2109.0,998.8 L2112.0,998.8 L2115.0,998.9 L2118.0,999.0 L2121.0,999.0 L2124.0,999.1 L2127.0,999.1 L2130.0,999.2 L2133.0,999.2 L2136.0,999.3 L2139.0,999.4 L2142.0,999.5 L2145.0,999.5 L2148.0,999.6 L2151.0,999.7 L2154.0,999.8 L2157.0,999.9 L2160.0,1000.0 L2163.0,1000.1 L2166.0,1000.2 L2169.0,1000.2 L2172.0,1000.3 L2175.0,1000.4 L2178.0,1000.5 L2181.0,1000.6 L2184.0,1000.7 L2187.0,1000.8 L2190.0,1000.9 L2193.0,1001.0 L2196.0,1001.1 L2199.0,1001.2 L2202.0,1001.2 L2205.0,1001.3 L2208.0,1001.4 L2211.0,1001.5 L2214.0,1001.5 L2217.0,1001.6 L2220.0,1001.7 L2223.0,1001.7 L2226.0,1001.8 L2229.0,1001.9 L2232.0,1001.9 L2235.0,1001.9 L2238.0,1002.0 L2241.0,1002.0 L2244.0,1002.0 L2247.0,1002.1 L2250.0,1002.1 L2253.0,1002.1 L2256.0,1002.1 L2259.0,1002.1 L2262.0,1002.1 L2264.0,1002.1"/>
<path stroke="#00ff00" d="M330.0,1064.5 L333.0,1064.5 L336.0,1064.6 L339.0,1065.9 L342.0,1069.5 L345.0,1073.8 L348.0,1076.8 L351.0,1079.1 L354.0,1081.2 L357.0,1083.5 L360.0,1085.8 L363.0,1088.3 L366.0,1090.7 L369.0,1093.1 L372.0,1095.5 L375.0,1097.8 L378.0,1100.2 L381.0,1102.7 L384.0,1105.3 L387.0,1107.9 L390.0,1110.6 L393.0,1113.4 L396.0,1116.3 L399.0,1119.3 L402.0,1122.4 L405.0,1125.4 L408.0,1128.2 L411.0,1130.7 L414.0,1133.0 L417.0,1135.4 L420.0,1137.8 L423.0,1140.4 L426.0,1143.1 L429.0,1145.8 L432.0,1148.6 L435.0,1151.4 L438.0,1154.3 L441.0,1157.3 L444.0,1160.3 L447.0,1163.5 L450.0,1166.7 L453.0,1170.0 L456.0,1173.3 L459.0,1176.8 L462.0,1180.4 L465.0,1184.2 L468.0,1187.9 L471.0,1191.2 L474.0,1194.0 L477.0,1196.5 L480.0,1198.8 L483.0,1201.1 L486.0,1203.5 L489.0,1206.0 L492.0,1208.5 L495.0,1210.8 L498.0,1212.9 L501.0,1214.8 L504.0,1216.6 L507.0,1218.3 L510.0,1220.1 L513.0,1222.1 L516.0,1224.1 L519.0,1226.2 L522.0,1228.4 L525.0,1230.8 L528.0,1233.4 L531.0,1236.0 L534.0,1238.3 L537.0,1239.9 L540.0,1241.3 L543.0,1242.3 L546.0,1243.1 L549.0,1243.4 L552.0,1243.5 L555.0,1243.5 L558.0,1243.5 L561.0,1243.5 L564.0,1243.5 L567.0,1243.4 L570.0,1243.3 L573.0,1243.2 L576.0,1243.1 L579.0,1243.0 L582.0,1242.9 L585.0,1242.7 L588.0,1242.6 L591.0,1242.4 L594.0,1242.2 L597.0,1241.9 L600.0,1241.7 L603.0,1241.4 L606.0,1241.2 L609.0,1240.8 L612.0,1240.4 L615.0,1239.9 L618.0,1239.3 L621.0,1238.6 L624.0,1237.9 L627.0,1237.3 L630.0,1236.7 L633.0,1236.2 L636.0,1235.8 L639.0,1235.6 L642.0,1235.5 L645.0,1235.6 L648.0,1235.8 L651.0,1236.0 L654.0,1236.2 L657.0,1236.5 L660.0,1236.8 L663.0,1237.1 L666.0,1237.3 L669.0,1237.5 L672.0,1237.6 L675.0,1237.7 L678.0,1237.6 L681.0,1237.4 L684.0,1237.1 L687.0,1236.8 L690.0,1236.4 L693.0,1236.0 L696.0,1235.5 L699.0,1234.9 L702.0,1234.1 L705.0,1233.0 L708.0,1231.9 L711.0,1230.8 L714.0,1229.9 L717.0,1229.1 L720.0,1228.7 L723.0,1228.4 L726.0,1228.2 L729.0,1228.0 L732.0,1227.8 L735.0,1227.6 L738.0,1227.4 L741.0,1227.1 L744.0,1226.6 L747.0,1226.0 L750.0,1225.4 L753.0,1224.6 L756.0,1223.8 L759.0,1222.8 L762.0,1221.7 L765.0,1220.3 L768.0,1218.6 L771.0,1216.0 L774.0,1212.8 L777.0,1209.7 L780.0,1207.0 L783.0,1204.6 L786.0,1203.0 L789.0,1202.4 L792.0,1202.5 L795.0,1203.1 L798.0,1204.1 L801.0,1206.2 L804.0,1209.4 L807.0,1212.9 L810.0,1216.7 L813.0,1220.7 L816.0,1224.4 L819.0,1227.5 L822.0,1230.3 L825.0,1233.0 L828.0,1235.6 L831.0,1238.3 L834.0,1240.9 L837.0,1243.5 L840.0,1246.1 L843.0,1248.5 L846.0,1250.9 L849.0,1253.3 L852.0,1256.1 L855.0,1259.0 L858.0,1260.7 L861.0,1260.7 L864.0,1260.2 L867.0,1259.1 L870.0,1256.9 L873.0,1252.1 L876.0,1246.3 L879.0,1242.8 L882.0,1241.6 L885.0,1242.5 L888.0,1245.2 L891.0,1250.7 L894.0,1259.3 L897.0,1268.4 L900.0,1276.5 L903.0,1284.4 L906.0,1290.5 L909.0,1294.4 L912.0,1297.0 L915.0,1298.7 L918.0,1299.8 L921.0,1300.7 L924.0,1302.0 L927.0,1303.8 L930.0,1305.7 L933.0,1307.5 L936.0,1309.2 L939.0,1310.8 L942.0,1312.4 L945.0,1314.1 L948.0,1315.8 L951.0,1317.6 L954.0,1319.5 L957.0,1321.4 L960.0,1323.2 L963.0,1324.8 L966.0,1326.3 L969.0,1327.7 L972.0,1329.1 L975.0,1330.4 L978.0,1331.7 L981.0,1333.0 L984.0,1334.5 L987.0,1335.9 L990.0,1337.0 L993.0,1337.3 L996.0,1337.0 L999.0,1336.5 L1002.0,1336.4 L1005.0,1337.0 L1008.0,1337.9 L1011.0,1338.9 L1014.0,1339.9 L1017.0,1341.1 L1020.0,1342.7 L1023.0,1345.0 L1026.0,1347.5 L1029.0,1349.5 L1032.0,1351.3 L1035.0,1353.0 L1038.0,1354.6 L1041.0,1356.2 L1044.0,1357.8 L1047.0,1359.3 L1050.0,1360.9 L1053.0,1362.4 L1056.0,1363.9 L1059.0,1365.4 L1062.0,1366.9 L1065.0,1368.3 L1068.0,1369.6 L1071.0,1371.0 L1074.0,1372.3 L1077.0,1373.6 L1080.0,1375.0 L1083.0,1376.5 L1086.0,1377.9 L1089.0,1379.4 L1092.0,1381.0 L1095.0,1382.5 L1098.0,1384.0 L1101.0,1385.4 L1104.0,1386.9 L1107.0,1388.3 L1110.0,1389.8 L1113.0,1391.2 L1116.0,1392.5 L1119.0,1393.9 L1122.0,1395.2 L1125.0,1396.6 L1128.0,1397.8 L1131.0,1399.1 L1134.0,1400.3 L1137.0,1401.5 L1140.0,1402.6 L1143.0,1403.7 L1146.0,1404.7 L1149.0,1405.7 L1152.0,1406.7 L1155.0,1407.7 L1158.0,1408.7 L1161.0,1409.6 L1164.0,1410.5 L1167.0,1411.4 L1170.0,1412.2 L1173.0,1413.0 L1176.0,1413.8 L1179.0,1414.6 L1182.0,1415.3 L1185.0,1416.1 L1188.0,1416.8 L1191.0,1417.6 L1194.0,1418.4 L1197.0,1419.2 L1200.0,1420.1 L1203.0,1420.9 L1206.0,1421.8 L1209.0,1422.5 L1212.0,1423.3 L1215.0,1424.0 L1218.0,1424.7 L1221.0,1425.3 L1224.0,1426.0 L1227.0,1426.6 L1230.0,1427.2 L1233.0,1427.8 L1236.0,1428.4 L1239.0,1429.0 L1242.0,1429.5 L1245.0,1429.9 L1248.0,1430.2 L1251.0,1430.4 L1254.0,1430.5 L1257.0,1430.7 L1260.0,1430.8 L1263.0,1430.9 L1266.0,1431.0 L1269.0,1431.1 L1272.0,1431.2 L1275.0,1431.3 L1278.0,1431.4 L1281.0,1431.7 L1284.0,1432.1 L1287.0,1432.6 L1290.0,1433.1 L1293.0,1433.6 L1296.0,1434.0 L1299.0,1434.5 L1302.0,1434.9 L1305.0,1435.4 L1308.0,1435.8 L1311.0,1436.3 L1314.0,1436.7 L1317.0,1437.1 L1320.0,1437.6 L1323.0,1438.0 L1326.0,1438.5 L1329.0,1438.9 L1332.0,1439.4 L1335.0,1439.9 L1338.0,1440.3 L1341.0,1440.8 L1344.0,1441.3 L1347.0,1441.8 L1350.0,1442.3 L1353.0,1442.8 L1356.0,1443.3 L1359.0,1443.9 L1362.0,1444.4 L1365.0,1444.9 L1368.0,1445.4 L1371.0,1446.0 L1374.0,1446.5 L1377.0,1447.1 L1380.0,1447.6 L1383.0,1448.1 L1386.0,1448.7 L1389.0,1449.2 L1392.0,1449.8 L1395.0,1450.3 L1398.0,1450.8 L1401.0,1451.4 L1404.0,1451.9 L1407.0,1452.4 L1410.0,1453.0 L1413.0,1453.5 L1416.0,1454.0 L1419.0,1454.6 L1422.0,1455.1 L1425.0,1455.6 L1428.0,1456.2 L1431.0,1456.7 L1434.0,1457.3 L1437.0,1457.8 L1440.0,1458.3 L1443.0,1458.9 L1446.0,1459.4 L1449.0,1459.9 L1452.0,1460.4 L1455.0,1461.0 L1458.0,1461.5 L1461.0,1462.0 L1464.0,1462.5 L1467.0,1463.0 L1470.0,1463.4 L1473.0,1463.9 L1476.0,1464.4 L1479.0,1464.8 L1482.0,1465.3 L1485.0,1465.8 L1488.0,1466.3 L1491.0,1466.8 L1494.0,1467.2 L1497.0,1467.7 L1500.0,1468.2 L1503.0,1468.7 L1506.0,1469.1 L1509.0,1469.6 L1512.0,1470.0 L1515.0,1470.5 L1518.0,1470.9 L1521.0,1471.3 L1524.0,1471.8 L1527.0,1472.2 L1530.0,1472.5 L1533.0,1472.9 L1536.0,1473.3 L1539.0,1473.6 L1542.0,1473.9 L1545.0,1474.2 L1548.0,1474.5 L1551.0,1474.8 L1554.0,1475.1 L1557.0,1475.3 L1560.0,1475.5 L1563.0,1475.7 L1566.0,1475.9 L1569.0,1476.1 L1572.0,1476.3 L1575.0,1476.5 L1578.0,1476.7 L1581.0,1476.9 L1584.0,1477.0 L1587.0,1477.2 L1590.0,1477.4 L1593.0,1477.5 L1596.0,1477.7 L1599.0,1477.8 L1602.0,1478.0 L1605.0,1478.2 L1608.0,1478.3 L1611.0,1478.5 L1614.0,1478.6 L1617.0,1478.8 L1620.0,1479.0 L1623.0,1479.1 L1626.0,1479.3 L1629.0,1479.5 L1632.0,1479.7 L1635.0,1479.8 L1638.0,1480.0 L1641.0,1480.2 L1644.0,1480.3 L1647.0,1480.5 L1650.0,1480.7 L1653.0,1480.8 L1656.0,1481.0 L1659.0,1481.2 L1662.0,1481.3 L1665.0,1481.5 L1668.0,1481.6 L1671.0,1481.8 L1674.0,1481.9 L1677.0,1482.1 L1680.0,1482.2 L1683.0,1482.4 L1686.0,1482.5 L1689.0,1482.6 L1692.0,1482.8 L1695.0,1482.9 L1698.0,1483.0 L1701.0,1483.1 L1704.0,1483.2 L1707.0,1483.3 L1710.0,1483.4 L1713.0,1483.5 L1716.0,1483.6 L1719.0,1483.7 L1722.0,1483.8 L1725.0,1483.8 L1728.0,1483.9 L1731.0,1484.0 L1734.0,1484.1 L1737.0,1484.2 L1740.0,1484.3 L1743.0,1484.4 L1746.0,1484.5 L1749.0,1484.6 L1752.0,1484.7 L1755.0,1484.8 L1758.0,1484.9 L1761.0,1485.0 L1764.0,1485.2 L1767.0,1485.3 L1770.0,1485.4 L1773.0,1485.5 L1776.0,1485.7 L1779.0,1485.8 L1782.0,1485.9 L1785.0,1486.0 L1788.0,1486.2 L1791.0,1486.3 L1794.0,1486.4 L1797.0,1486.5 L1800.0,1486.7 L1803.0,1486.8 L1806.0,1486.9 L1809.0,1487.0 L1812.0,1487.2 L1815.0,1487.3 L1818.0,1487.4 L1821.0,1487.5 L1824.0,1487.7 L1827.0,1487.8 L1830.0,1487.9 L1833.0,1488.1 L1836.0,1488.2 L1839.0,1488.3 L1842.0,1488.5 L1845.0,1488.6 L1848.0,1488.8 L1851.0,1488.9 L1854.0,1489.1 L1857.0,1489.2 L1860.0,1489.3 L1863.0,1489.5 L1866.0,1489.6 L1869.0,1489.8 L1872.0,1490.0 L1875.0,1490.1 L1878.0,1490.3 L1881.0,1490.4 L1884.0,1490.6 L1887.0,1490.8 L1890.0,1491.0 L1893.0,1491.2 L1896.0,1491.3 L1899.0,1491.5 L1902.0,1491.7 L1905.0,1492.0 L1908.0,1492.2 L1911.0,1492.4 L1914.0,1492.6 L1917.0,1492.8 L1920.0,1493.0 L1923.0,1493.3 L1926.0,1493.5 L1929.0,1493.7 L1932.0,1494.0 L1935.0,1494.2 L1938.0,1494.4 L1941.0,1494.7 L1944.0,1494.9 L1947.0,1495.1 L1950.0,1495.3 L1953.0,1495.6 L1956.0,1495.8 L1959.0,1496.0 L1962.0,1496.3 L1965.0,1496.5 L1968.0,1496.7 L1971.0,1496.9 L1974.0,1497.1 L1977.0,1497.3 L1980.0,1497.5 L1983.0,1497.7 L1986.0,1497.9 L1989.0,1498.1 L1992.0,1498.3 L1995.0,1498.5 L1998.0,1498.7 L2001.0,1498.8 L2004.0,1499.0 L2007.0,1499.1 L2010.0,1499.3 L2013.0,1499.4 L2016.0,1499.6 L2019.0,1499.7 L2022.0,1499.9 L2025.0,1500.0 L2028.0,1500.2 L2031.0,1500.3 L2034.0,1500.4 L2037.0,1500.6 L2040.0,1500.7 L2043.0,1500.8 L2046.0,1501.0 L2049.0,1501.1 L2052.0,1501.2 L2055.0,1501.4 L2058.0,1501.5 L2061.0,1501.6 L2064.0,1501.7 L2067.0,1501.8 L2070.0,1502.0 L2073.0,1502.1 L2076.0,1502.2 L2079.0,1502.3 L2082.0,1502.5 L2085.0,1502.6 L2088.0,1502.7 L2091.0,1502.8 L2094.0,1503.0 L2097.0,1503.1 L2100.0,1503.2 L2103.0,1503.3 L2106.0,1503.5 L2109.0,1503.6 L2112.0,1503.7 L2115.0,1503.8 L2118.0,1504.0 L2121.0,1504.1 L2124.0,1504.2 L2127.0,1504.4 L2130.0,1504.5 L2133.0,1504.7 L2136.0,1504.8 L2139.0,1505.0 L2142.0,1505.2 L2145.0,1505.3 L2148.0,1505.5 L2151.0,1505.7 L2154.0,1505.9 L2157.0,1506.0 L2160.0,1506.2 L2163.0,1506.4 L2166.0,1506.6 L2169.0,1506.8 L2172.0,1506.9 L2175.0,1507.1 L2178.0,1507.3 L2181.0,1507.5 L2184.0,1507.6 L2187.0,1507.8 L2190.0,1508.0 L2193.0,1508.2 L2196.0,1508.3 L2199.0,1508.5 L2202.0,1508.6 L2205.0,1508.8 L2208.0,1508.9 L2211.0,1509.1 L2214.0,1509.2 L2217.0,1509.3 L2220.0,1509.4 L2223.0,1509.6 L2226.0,1509.7 L2229.0,1509.8 L2232.0,1509.8 L2235.0,1509.9 L2238.0,1510.0 L2241.0,1510.1 L2244.0,1510.1 L2247.0,1510.1 L2250.0,1510.2 L2253.0,1510.2 L2256.0,1510.2 L2259.0,1510.2 L2262.0,1510.2 L2264.0,1510.2"/>
</g>
<g stroke="#000" stroke-width="4.6" stroke-linecap="butt">
<line x1="307.8" y1="1571.9" x2="337.6" y2="1571.9"/>
<line x1="320.8" y1="1480.1" x2="337.6" y2="1480.1"/>
<line x1="307.8" y1="1388.3" x2="337.6" y2="1388.3"/>
<line x1="320.8" y1="1296.5" x2="337.6" y2="1296.5"/>
<line x1="307.8" y1="1204.7" x2="337.6" y2="1204.7"/>
<line x1="320.8" y1="1112.8" x2="337.6" y2="1112.8"/>
<line x1="307.8" y1="1021.0" x2="337.6" y2="1021.0"/>
<line x1="320.8" y1="929.2" x2="337.6" y2="929.2"/>
<line x1="307.8" y1="837.4" x2="337.6" y2="837.4"/>
<line x1="320.8" y1="745.6" x2="337.6" y2="745.6"/>
<line x1="307.8" y1="653.8" x2="337.6" y2="653.8"/>
<line x1="320.8" y1="562.0" x2="337.6" y2="562.0"/>
<line x1="307.8" y1="470.2" x2="337.6" y2="470.2"/>
<line x1="320.8" y1="378.3" x2="337.6" y2="378.3"/>
<line x1="307.8" y1="286.5" x2="337.6" y2="286.5"/>
<line x1="320.8" y1="194.7" x2="337.6" y2="194.7"/>
<line x1="307.8" y1="102.9" x2="337.6" y2="102.9"/>
<line x1="320.8" y1="11.1" x2="337.6" y2="11.1"/>
<line x1="337.6" y1="1571.9" x2="337.6" y2="1586.9"/>
<line x1="465.5" y1="1571.9" x2="465.5" y2="1598.9"/>
<line x1="593.5" y1="1571.9" x2="593.5" y2="1586.9"/>
<line x1="721.4" y1="1571.9" x2="721.4" y2="1598.9"/>
<line x1="849.4" y1="1571.9" x2="849.4" y2="1586.9"/>
<line x1="977.3" y1="1571.9" x2="977.3" y2="1598.9"/>
<line x1="1105.3" y1="1571.9" x2="1105.3" y2="1586.9"/>
<line x1="1233.2" y1="1571.9" x2="1233.2" y2="1598.9"/>
<line x1="1361.2" y1="1571.9" x2="1361.2" y2="1586.9"/>
<line x1="1489.1" y1="1571.9" x2="1489.1" y2="1598.9"/>
<line x1="1617.1" y1="1571.9" x2="1617.1" y2="1586.9"/>
<line x1="1745.0" y1="1571.9" x2="1745.0" y2="1598.9"/>
<line x1="1873.0" y1="1571.9" x2="1873.0" y2="1586.9"/>
<line x1="2000.9" y1="1571.9" x2="2000.9" y2="1598.9"/>
<line x1="2128.9" y1="1571.9" x2="2128.9" y2="1586.9"/>
<line x1="2256.8" y1="1571.9" x2="2256.8" y2="1598.9"/>
</g>
<rect x="337.6" y="11.1" width="1919.2" height="1560.8" fill="none" stroke="#000" stroke-width="5.6"/>
<g font-family="Liberation Sans, Arial, sans-serif" font-weight="bold" font-size="57" fill="#000" text-anchor="end">
<text x="291" y="1588.1">0</text>
<text x="291" y="1404.5">1000</text>
<text x="291" y="1220.9">2000</text>
<text x="291" y="1037.2">3000</text>
<text x="291" y="853.6">4000</text>
<text x="291" y="670.0">5000</text>
<text x="291" y="486.4">6000</text>
<text x="291" y="302.7">7000</text>
<text x="291" y="119.1">8000</text>
</g>
<g font-family="Liberation Sans, Arial, sans-serif" font-weight="bold" font-size="57" fill="#000" text-anchor="middle">
<text x="464.3" y="1659.5">10</text>
<text x="720.2" y="1659.5">20</text>
<text x="976.1" y="1659.5">30</text>
<text x="1232.0" y="1659.5">40</text>
<text x="1487.9" y="1659.5">50</text>
<text x="1743.8" y="1659.5">60</text>
<text x="1999.7" y="1659.5">70</text>
<text x="2255.6" y="1659.5">80</text>
</g>
<text transform="translate(1495.10,390.70) scale(1.0012,1.0756)" font-family="Liberation Sans, Arial, sans-serif" font-weight="bold" font-size="70" fill="#ff00ff">GT-cl-poly(DMA)/RGO</text>
<text transform="translate(2051.43,692.50) scale(0.9935,1.0735)" font-family="Liberation Sans, Arial, sans-serif" font-weight="bold" font-size="70" fill="#0000ff">RGO</text>
<text transform="translate(1679.58,948.50) scale(1.0052,1.0756)" font-family="Liberation Sans, Arial, sans-serif" font-weight="bold" font-size="70" fill="#ff0000">GT-cl-poly(DMA)</text>
<text transform="translate(2112.03,1427.00) scale(0.9904,1.0756)" font-family="Liberation Sans, Arial, sans-serif" font-weight="bold" font-size="70" fill="#00ff00">GT</text>
<text transform="translate(767.57,178.30) scale(1.0158,1.0438)" font-family="Liberation Sans, Arial, sans-serif" font-weight="bold" font-size="59" fill="#ff00ff">24.4<tspan font-weight="normal" font-size="68" dx="-3" dy="9">°</tspan></text>
<text transform="translate(761.23,474.60) scale(0.9909,0.9928)" font-family="Liberation Sans, Arial, sans-serif" font-weight="bold" font-size="59" fill="#0000ff">(002)</text>
<text transform="translate(1261.43,663.70) scale(0.9902,1.0224)" font-family="Liberation Sans, Arial, sans-serif" font-weight="bold" font-size="59" fill="#0000ff">(100)</text>
<text transform="translate(830.50,850.00) scale(1.0023,1.0414)" font-family="Liberation Sans, Arial, sans-serif" font-weight="bold" font-size="59" fill="#ff0000">26.6<tspan font-weight="normal" font-size="68" dx="-3" dy="9">°</tspan></text>
<text transform="translate(724.19,1177.00) scale(1.0060,1.0001)" font-family="Liberation Sans, Arial, sans-serif" font-weight="bold" font-size="59" fill="#00ff00">22.9<tspan font-weight="normal" font-size="68" dx="-3" dy="9">°</tspan></text>
<text transform="translate(852.36,1225.50) scale(1.0195,1.0244)" font-family="Liberation Sans, Arial, sans-serif" font-weight="bold" font-size="59" fill="#00ff00">26.2<tspan font-weight="normal" font-size="68" dx="-3" dy="9">°</tspan></text>
<text transform="translate(1043.78,1782.60) scale(1.0045,1.0026)" font-family="Liberation Serif, Times New Roman, serif" font-weight="bold" font-size="105" fill="#000">2θ (degree)</text>
<text transform="translate(81.10,1169.38) rotate(-90) scale(0.9612,1.0109)" font-family="Liberation Serif, Times New Roman, serif" font-weight="bold" font-size="105" fill="#000">Intensity (a.u.)</text>
</svg>
</body></html>
